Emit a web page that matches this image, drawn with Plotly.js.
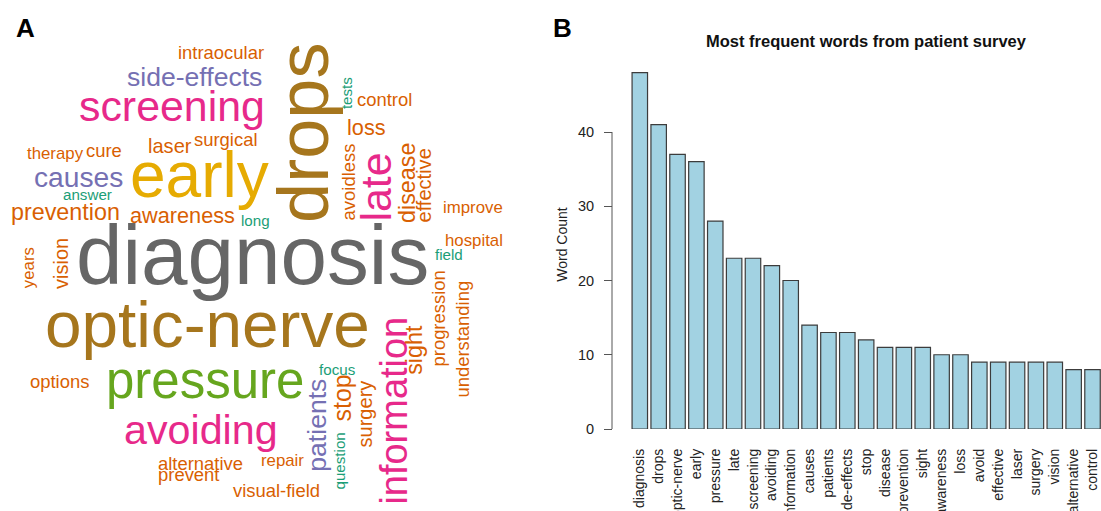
<!DOCTYPE html>
<html>
<head>
<meta charset="utf-8">
<script src="https://cdn.plot.ly/plotly-3.0.1.min.js"></script>
<style>
  html, body { margin: 0; padding: 0; background: #ffffff; }
  #chart { width: 1101px; height: 511px; }
</style>
</head>
<body>
<div id="chart"></div>
<script>
// ---------- Panel B data: most frequent words ----------
const barWords = ['diagnosis','drops','optic-nerve','early','pressure','late','screening','avoiding','information','causes','patients','side-effects','stop','disease','prevention','sight','awareness','loss','avoid','effective','laser','surgery','vision','alternative','control'];
const barCounts = [48,41,37,36,28,23,23,22,20,14,13,13,12,11,11,11,10,10,9,9,9,9,9,8,8];
const yTicks = [0,10,20,30,40];

// ---------- Panel A data: word cloud words and frequencies ----------
const cloudWords = ['diagnosis','drops','optic-nerve','early','pressure','late','screening','avoiding','information','causes',
  'patients','side-effects','stop','disease','prevention','sight','awareness','loss','effective','laser',
  'surgery','vision','alternative','control','avoidless','intraocular','cure','surgical','options','prevent',
  'visual-field','progression','understanding','therapy','years','improve','hospital','repair','answer','long',
  'tests','field','focus','question'];
const cloudFreqs = [48,41,37,36,28,23,23,22,20,14,
  13,13,12,11,11,11,10,10,9,9,
  9,9,8,8,8,8,8,8,8,8,
  8,8,8,7,7,7,7,7,6,6,
  6,6,6,6];

// ---------- Panel A layout (placement of each word: centre x, centre y, angle) ----------
const cloudPlacement = [
  [252,254.6,0],[303,133,-90],[207,324.5,0],[199,175,0],[205,380,0],[375,187.5,-90],[172,106,0],[201,430,0],[393.6,411,-90],[78,177,0],
  [316.7,425,-90],[194,77,0],[341,398.5,-90],[407,183,-90],[65,212,0],[413.8,350,-90],[182,215.5,0],[366,127.5,0],[423,185.5,-90],[170,145.7,0],
  [364,414.5,-90],[61,264,-90],[200,463.5,0],[384,99.7,0],[348.4,182,-90],[221,52,0],[104,150.7,0],[225,139.6,0],[59,381.4,0],[188,474.4,0],
  [276,490.6,0],[437.5,319,-90],[461.6,339,-90],[55,153.7,0],[28.7,267.5,-90],[473,207.6,0],[474,240,0],[282,460,0],[87,194.6,0],[255,220.7,0],
  [346.6,93.5,-90],[449,254.8,0],[337,369.8,0],[338.5,461,-90]
];

// Dark2 palette, assigned by frequency band
const dark2 = ['#1B9E77','#D95F02','#7570B3','#E7298A','#66A61E','#E6AB02','#A6761D','#666666'];
const colorBands = [7,13,15,25,30,37,45]; // lower bounds of bands 1..7
function colorFor(f){
  let idx = 0;
  colorBands.forEach((b,i)=>{ if (f >= b) idx = i+1; });
  return dark2[idx];
}
const maxFreq = Math.max(...cloudFreqs);
const sizeMin = 5.4, sizeMax = 83.6;
function sizeFor(f){ return sizeMin + (sizeMax - sizeMin) * f / maxFreq; }

const FONT = 'Liberation Sans, Arial, Helvetica, sans-serif';
const W = 1101, H = 511;

const cloudAnnotations = cloudWords.map((w,i)=>({
  text: w,
  x: cloudPlacement[i][0], y: cloudPlacement[i][1],
  xref: 'x2', yref: 'y2',
  textangle: cloudPlacement[i][2],
  showarrow: false,
  xanchor: 'center', yanchor: 'middle',
  borderpad: 0,
  font: {family: FONT, size: sizeFor(cloudFreqs[i]), color: colorFor(cloudFreqs[i])}
}));

const panelLabels = [
  {text:'A', x:26/W, y:1-28/H, xref:'paper', yref:'paper', showarrow:false, xanchor:'center', yanchor:'middle',
   font:{family:FONT, size:26, color:'#000', weight:'bold'}},
  {text:'B', x:562/W, y:1-28/H, xref:'paper', yref:'paper', showarrow:false, xanchor:'center', yanchor:'middle',
   font:{family:FONT, size:26, color:'#000', weight:'bold'}}
];

const barTrace = {
  type: 'bar',
  x: barWords,
  y: barCounts,
  xaxis: 'x', yaxis: 'y',
  marker: {color: '#a2d2e2', line: {color: '#3c3c3c', width: 1.2}},
  hoverinfo: 'x+y'
};

const layout = {
  width: W, height: H,
  margin: {l:0, r:0, t:0, b:0, pad:0},
  paper_bgcolor: '#ffffff',
  plot_bgcolor: 'rgba(0,0,0,0)',
  showlegend: false,
  font: {family: FONT, color: '#222'},
  bargap: 0.18,
  title: {
    text: 'Most frequent words from patient survey',
    x: 866/W, xref: 'paper', xanchor: 'center',
    y: 1-41/H, yref: 'paper', yanchor: 'middle',
    font: {family: FONT, size: 16.5, color: '#111', weight: 'bold'}
  },
  xaxis: {
    domain: [630/W, 1],
    type: 'category',
    range: [-0.52, 24.45],
    showline: false, showgrid: false, zeroline: false,
    ticks: '', tickangle: -90,
    ticklabelstandoff: 16,
    tickfont: {family: FONT, size: 14, color: '#222'},
    anchor: 'y',
    fixedrange: true
  },
  yaxis: {
    domain: [(H-429)/H, (H-60)/H],
    range: [0, 369/7.425],
    anchor: 'free', position: 612/W,
    showline: false, showgrid: false, zeroline: false,
    tickmode: 'array', tickvals: yTicks, ticktext: yTicks.map(String),
    ticks: 'outside', ticklen: 8, tickcolor: '#555', tickwidth: 1,
    ticklabelstandoff: 7,
    tickfont: {family: FONT, size: 14.5, color: '#222'},
    title: {text: 'Word Count', font: {family: FONT, size: 14, color: '#222'}, standoff: 6},
    fixedrange: true
  },
  xaxis2: {domain: [0, 540/W], range: [0, 540], visible: false, anchor: 'y2', fixedrange: true},
  yaxis2: {domain: [0, 1], range: [H, 0], visible: false, anchor: 'x2', fixedrange: true},
  shapes: [{
    type: 'line', xref: 'paper', yref: 'y',
    x0: 612/W, x1: 612/W, y0: yTicks[0], y1: yTicks[yTicks.length-1],
    line: {color: '#555', width: 1}
  }],
  annotations: panelLabels.concat(cloudAnnotations)
};

Plotly.newPlot('chart', [barTrace], layout, {displayModeBar: false, staticPlot: true});
</script>
</body>
</html>
